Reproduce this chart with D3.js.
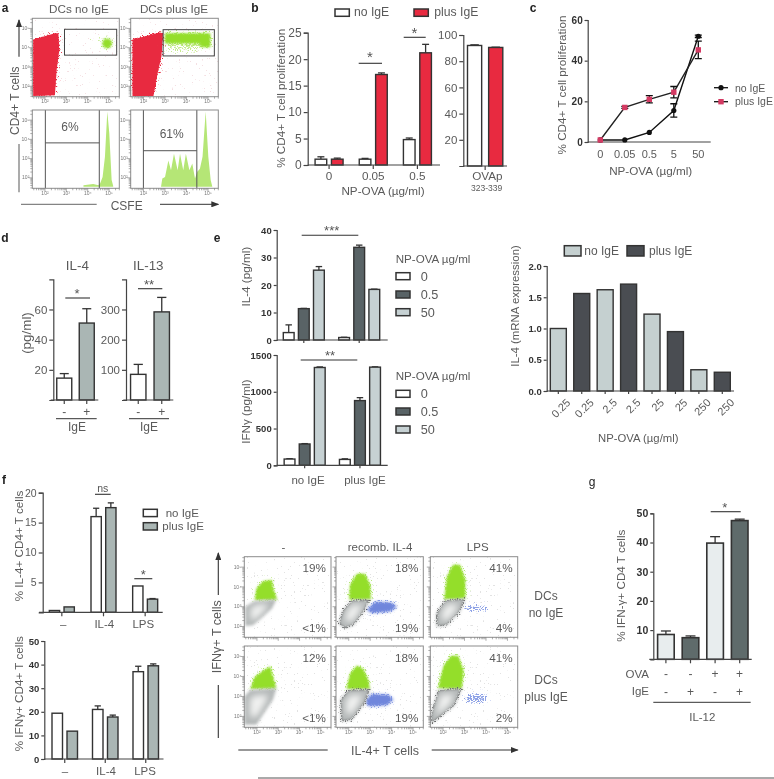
<!DOCTYPE html>
<html><head><meta charset="utf-8">
<style>html,body{margin:0;padding:0;background:#fff}svg{display:block;filter:blur(0.35px)}text{font-family:"Liberation Sans",Arial,sans-serif}</style>
<script src="https://cdn.jsdelivr.net/npm/d3@7/dist/d3.min.js"></script></head><body>
<script>
// ---------- values ----------
const seriesIgE = ['no IgE','plus IgE'];
const bDoses = ['0','0.05','0.5'];
const bNoIgE = [1.1,1.1,4.8], bNoIgEErr = [0.45,0.15,0.3];
const bPlusIgE = [1.1,17.1,21.2], bPlusIgEErr = [0.2,0.3,1.6];
const bOvaCats = ['no IgE','plus IgE'], bOvaVals = [92,90.5], bOvaErr = [0.5,0.2];
const cDoses = ['0','0.05','0.5','5','50'];
const cNoIgE = [1,1,4.7,15.5,52], cNoIgEErr = [0,0.3,0.3,3.3,0.6];
const cPlusIgE = [1,17,21,24.5,45.3], cPlusIgEErr = [0,0.5,1.8,2.8,4.3];
const dSigns = ['-','+'];
const dIL4 = [14.5,51], dIL4Err = [3,9.5];
const dIL13 = [85,292], dIL13Err = [33,48];
const eGroups = ['no IgE','plus IgE'], eDoses = ['0','0.5','50'];
const eIL4 = [[2.7,11.4,25.4],[0.9,33.7,18.4]], eIL4Err = [[2.8,0.1,1.3],[0.1,0.8,0.1]];
const eIFN = [[85,290,1330],[80,880,1335]], eIFNErr = [[5,5,8],[8,40,4]];
const eMrnaDoses = ['0.25','0.25','2.5','2.5','25','25','250','250'];
const eMrna = [1.0,1.56,1.62,1.71,1.23,0.95,0.34,0.30];
const fCats = ['–','IL-4','LPS'];
const fIL4 = [[0.3,0.9],[16,17.5],[4.4,2.2]], fIL4Err = [[0,0],[1.4,0.8],[0,0.1]];
const fIFN = [[19.4,11.8],[21,17.8],[37,39.5]], fIFNErr = [[0,0],[1.5,0.8],[2.3,0.8]];
const gOva = ['-','-','+','+'], gIgE = ['-','+','-','+'];
const gVals = [8.5,7.4,39.8,47.5], gErr = [1.2,0.6,2.2,0.5];
// flow cytometry: population outlines in % of the plot (x from left, y from bottom)
const flowCols = ['-','recomb. IL-4','LPS'];
const flowTop = [['19%','18%','41%'],['12%','18%','41%']];
const flowBottom = [['<1%','19%','4%'],['<1%','19%','2%']];
const flowGreen = [
 [[[12,46],[14,61],[22,70],[32,71],[33,61],[38,47]], [[15,47],[16,65],[24,79],[33,79],[39,65],[40,47]], [[16,47],[19,75],[26,90],[34,90],[40,71],[40,48]]],
 [[[7,47],[12,62],[22,70],[30,75],[33,62],[37,48]], [[12,47],[16,66],[24,76],[31,72],[37,58],[39,47]], [[9,48],[15,75],[24,88],[32,88],[38,70],[36,47]]]];
const flowGray = [
 [[[1,38],[12,45],[37,47],[32,36],[20,24],[10,15],[1,14]], [[8,34],[18,46],[39,47],[32,32],[20,15],[10,11],[3,17]], [[7,30],[17,46],[40,48],[34,32],[19,15],[7,13]]],
 [[[0,38],[7,46],[37,48],[33,34],[20,13],[14,3],[0,3]], [[5,34],[14,46],[39,47],[33,30],[18,9],[6,7]], [[1.5,19],[9,46],[36,48],[28,27],[9,11],[0,3]]]];
const flowBlue = [
 [null, [[35,34],[45,44],[64,43],[70,38],[62,32],[41,30]], [[36,36],[47,41],[66,39],[66,34],[44,32]]],
 [null, [[33,32],[41,41],[60,40],[66,34],[58,27],[37,26]], [[36,36],[47,42],[66,40],[66,32],[44,30]]]];
const aRed = [[[1,73],[26,81],[30,81],[31,59],[28,34],[26,2],[1,1]], [[2,73],[33,82],[37,81],[35,51],[30,26],[26,1],[2,1]]];
const aGate = [[37,53,97,86],[37,52,95.5,85.5]];
const aGreen = [[[[80,68],[83,74],[89,74],[92,68],[89,62],[83,62]],[[60,74],[82,75],[82,70],[60,71]]],
 [[[39,81],[91,81],[91,63],[80,63],[79,68],[39,68]],[[39,68],[79,68],[79,58],[39,60]]]];
const aHistSingle = [[58.8,2],[70,3.5],[76,2],[77.8,4],[80.8,13],[83.5,40],[86.2,100],[88.5,71],[91.2,9],[93,1]];
const aHistMulti = [[34.6,0],[36.1,11],[39.2,13],[43,35],[46,22],[49.4,44],[53.6,22],[56.3,44],[60,22],[63,44],[67,22],[70.3,31],[73.4,11],[76,20],[79,24],[82,40],[85.6,100],[88.6,40],[91.3,9],[93.2,0]];
const aHistLabels = ['6%','61%'];
const aHistGates = [[15,77,58],[14.5,75.5,48]];

// ---------- palette ----------
const ink='#333', txt='#5a5a5a', red='#e82a40', pink='#d43a63', greyBar='#aab6b4', eDark='#596366', eLight='#c6d1d3', mLight='#c5d0d0', mDark='#4a4d52', gLight='#e8edee', gDark='#5f6b6b', green='#94de2c', white='#fff';

const W=774,H=779;
const svg=d3.select('body').append('svg').attr('width',W).attr('height',H).attr('viewBox',[0,0,W,H]);
const defs=svg.append('defs');
function speck(id,color,std,seed,freq){
  const f=defs.append('filter').attr('id',id).attr('x','-40%').attr('y','-40%').attr('width','180%').attr('height','180%').attr('color-interpolation-filters','sRGB');
  f.append('feGaussianBlur').attr('in','SourceAlpha').attr('stdDeviation',std).attr('result','b');
  f.append('feTurbulence').attr('type','fractalNoise').attr('baseFrequency',freq||0.85).attr('numOctaves',1).attr('seed',seed).attr('result','t');
  f.append('feColorMatrix').attr('in','t').attr('type','matrix').attr('values','0 0 0 0 0  0 0 0 0 0  0 0 0 0 0  2.2 0 0 0 -0.6').attr('result','n');
  f.append('feComposite').attr('in','b').attr('in2','n').attr('operator','arithmetic').attr('k1',0).attr('k2',1).attr('k3',1).attr('k4',-1).attr('result','a');
  const c=f.append('feComponentTransfer').attr('in','a').attr('result','h');
  c.append('feFuncA').attr('type','linear').attr('slope',6).attr('intercept',0);
  f.append('feFlood').attr('flood-color',color).attr('result','col');
  f.append('feComposite').attr('in','col').attr('in2','h').attr('operator','in');
}
speck('spGreen','#b4e878',3.2,3);speck('spRed',red,2.4,5);speck('spDark','#4a4a4a',1.8,8);speck('spBlue','#8ea2e6',2.6,11);
speck('spPink','#e6b3bb',0.1,13,0.7);speck('spGrey','#a0a0a0',0.1,17,0.7);speck('spLGreen','#c6eb8e',3,21);
defs.append('filter').attr('id','soft').attr('x','-30%').attr('y','-30%').attr('width','160%').attr('height','160%').append('feGaussianBlur').attr('stdDeviation',1.6);
defs.append('filter').attr('id','soft1').attr('x','-30%').attr('y','-30%').attr('width','160%').attr('height','160%').append('feGaussianBlur').attr('stdDeviation',.8);
defs.append('filter').attr('id','soft3').attr('x','-30%').attr('y','-30%').attr('width','160%').attr('height','160%').append('feGaussianBlur').attr('stdDeviation',3);
defs.append('marker').attr('id','arr').attr('viewBox','0 0 8 6').attr('refX',7).attr('refY',3).attr('markerWidth',8).attr('markerHeight',6).attr('orient','auto').attr('markerUnits','userSpaceOnUse').append('path').attr('d','M0,0L8,3L0,6Z').attr('fill','#333');

// ---------- helpers ----------
function T(x,y,s,o={}){
  const t=svg.append('text').attr('x',x).attr('y',y).attr('dy','.35em').attr('text-anchor',o.a||'middle').attr('font-size',o.s||11.7).attr('fill',o.c||txt).attr('font-weight',o.b?'bold':null).text(s);
  if(o.r!=null)t.attr('transform',`rotate(${o.r} ${x} ${y})`);
  return t;
}
function L(x1,y1,x2,y2,o={}){return svg.append('line').attr('x1',x1).attr('y1',y1).attr('x2',x2).attr('y2',y2).attr('stroke',o.c||ink).attr('stroke-width',o.w||1).attr('marker-end',o.arrow?'url(#arr)':null);}
function Sig(x1,x2,y,s,cx,sy,o={}){L(x1,y,x2,y,{w:1.1});T(cx,sy,s,{s:o.s||13,c:'#555'});}
function swatch(x,y,w,h,f){svg.append('rect').attr('x',x).attr('y',y).attr('width',w).attr('height',h).attr('fill',f).attr('stroke',ink).attr('stroke-width',1.5);}
function yAxis(x,y,ticks,o={}){
  const g=svg.append('g').attr('transform',`translate(${x},0)`).call(d3.axisLeft(y).tickValues(ticks).tickSize(o.ts||4).tickPadding(o.tp||2).tickFormat(o.fmt||d3.format('d')));
  g.selectAll('.domain,line').attr('stroke',o.c||'#444').attr('stroke-width',1.2);
  g.selectAll('text').attr('font-family','"Liberation Sans",Arial,sans-serif').attr('font-size',o.s||11.5).attr('fill',o.tc||txt).attr('font-weight',o.b?'bold':null);
  return g;
}
// grouped bars from band scales; returns the outer scale
function bars(o){
  const y=o.y, nS=o.values[0].length;
  const x=d3.scaleBand().domain(d3.range(o.values.length)).range(o.xr);
  const inner=d3.scaleBand().domain(d3.range(nS)).range([0,o.iw]).paddingInner(o.pad||0);
  const offset=(x.bandwidth()-o.iw)/2;
  const g=svg.append('g');
  o.values.forEach((vals,i)=>vals.forEach((v,j)=>{
    const bx=x(i)+offset+inner(j), bw=inner.bandwidth(), e=o.errors?o.errors[i][j]:0;
    if(e>0){
      g.append('line').attr('x1',bx+bw/2).attr('x2',bx+bw/2).attr('y1',y(v)).attr('y2',y(v+e)).attr('stroke',ink).attr('stroke-width',1.3);
      g.append('line').attr('x1',bx+bw*0.2).attr('x2',bx+bw*0.8).attr('y1',y(v+e)).attr('y2',y(v+e)).attr('stroke',ink).attr('stroke-width',1.3);
    }
    g.append('rect').attr('x',bx).attr('y',y(v)).attr('width',bw).attr('height',y(0)-y(v)).attr('fill',o.fill(i,j)).attr('stroke',ink).attr('stroke-width',o.sw||1.4);
  }));
  const ax=d3.axisBottom(x).tickSize(o.ts==null?4:o.ts).tickPadding(o.tp||3).tickFormat(i=>o.labels?o.labels[i]:'');
  const a=svg.append('g').attr('transform',`translate(0,${y(0)})`).call(ax);
  a.select('.domain').attr('d',`M${o.xa?o.xa[0]:o.xr[0]},0H${o.xa?o.xa[1]:o.xr[1]}`).attr('stroke','#444').attr('stroke-width',1.2);
  a.selectAll('line').attr('stroke','#444').attr('stroke-width',1.2);
  a.selectAll('text').attr('font-family','"Liberation Sans",Arial,sans-serif').attr('font-size',o.ls||11.5).attr('fill',txt);
  return {x,a};
}
const zip=(a,b)=>a.map((v,i)=>[v,b[i]]);
const wrap=a=>a.map(v=>[v]);
const line=d3.line().curve(d3.curveLinearClosed);

// ---------- panel letters ----------
[['a',5,8],['b',255,8],['c',533,8],['d',5,238],['e',217,238],['f',4,480],['g',592,482]].forEach(d=>T(d[1],d[2],d[0],{s:12,c:'#222',b:d[0]!='g'}));

// ---------- a: flow dot plots and histograms ----------
function logAxes(g,w,h,o={}){
  const dom=[Math.pow(10,o.lo||1.43),Math.pow(10,o.hi||5.5)];
  const sx=d3.scaleLog().domain(dom).range([0,w]), sy=d3.scaleLog().domain(dom).range([h,0]);
  const tv=d3.range(1,6).flatMap(e=>d3.range(1,10).map(m=>m*Math.pow(10,e))).filter(t=>t>=dom[0]&&t<=dom[1]);
  const sup=t=>{const e=Math.log10(t);return Number.isInteger(e)&&e>=2?'10'+'⁰¹²³⁴⁵'[e]:'';};
  const st=(s,axis,show)=>{
    s.call(axis.tickValues(tv).tickSize(2).tickPadding(1).tickFormat(show?sup:''));
    s.select('.domain').remove();
    s.selectAll('line').attr('stroke','#777').attr('stroke-width',.6);
    s.selectAll('.tick').filter(t=>Number.isInteger(Math.log10(t))).select('line').attr('y2',axis===ab?3.5:null).attr('x2',axis===al?-3.5:null);
    s.selectAll('text').attr('font-size',5).attr('fill','#777').attr('font-family','"Liberation Sans",Arial,sans-serif');
  };
  const ab=d3.axisBottom(sx), al=d3.axisLeft(sy);
  st(g.append('g').attr('transform',`translate(0,${h})`),ab,o.bottom!==false);
  st(g.append('g'),al,o.left!==false);
}
let clipId=0;
function plotBox(x0,y0,x1,y1){
  const id='clip'+(clipId++);
  defs.append('clipPath').attr('id',id).append('rect').attr('width',x1-x0).attr('height',y1-y0);
  const g=svg.append('g').attr('transform',`translate(${x0},${y0})`);
  const inner=g.append('g').attr('clip-path',`url(#${id})`);
  const sx=d3.scaleLinear().domain([0,100]).range([0,x1-x0]), sy=d3.scaleLinear().domain([0,100]).range([y1-y0,0]);
  const p=pts=>line(pts.map(d=>[sx(d[0]),sy(d[1])]));
  return {g,inner,sx,sy,p,w:x1-x0,h:y1-y0};
}
const fullBox=[[0,0],[100,0],[100,100],[0,100]];
function frame(b){b.g.append('rect').attr('width',b.w).attr('height',b.h).attr('fill','none').attr('stroke','#8c8c8c').attr('stroke-width',1);}
[[32.3,119.3],[130.7,218.3]].forEach((xs,i)=>{
  const b=plotBox(xs[0],18.3,xs[1],96.7);
  b.inner.append('path').attr('d',b.p(fullBox)).attr('fill','#000').attr('fill-opacity',.07).attr('filter','url(#spPink)');
  b.inner.append('path').attr('d',b.p(aRed[i])).attr('fill','#000').attr('filter','url(#spRed)');
  b.inner.append('path').attr('d',b.p(aRed[i])).attr('fill',red);
  const g=aGate[i];
  b.inner.append('path').attr('d',b.p(aGreen[i][1])).attr('fill','#000').attr('fill-opacity',i?.8:.5).attr('filter','url(#spLGreen)');
  b.inner.append('path').attr('d',b.p(aGreen[i][0])).attr('fill','#000').attr('filter','url(#spGreen)');
  b.inner.append('path').attr('d',b.p(aGreen[i][0])).attr('fill',green).attr('filter','url(#soft1)');
  b.inner.append('rect').attr('x',b.sx(g[0])).attr('y',b.sy(g[3])).attr('width',b.sx(g[2])-b.sx(g[0])).attr('height',b.sy(g[1])-b.sy(g[3])).attr('fill','none').attr('stroke','#444').attr('stroke-width',1);
  frame(b);logAxes(b.g,b.w,b.h);
});
[[32.3,119.3],[130.7,218.3]].forEach((xs,i)=>{
  const b=plotBox(xs[0],110,xs[1],188.3);
  const data=i?aHistMulti:aHistSingle;
  const base=b.sy(2);
  const area=d3.area().x(d=>b.sx(d[0])).y0(base).y1(d=>b.sy(d[1]*0.96+2));
  b.inner.append('path').attr('d',area(data)).attr('fill','#b5e676');
  const g=aHistGates[i];
  b.inner.append('path').attr('d',`M${b.sx(g[0])},0V${b.h}M${b.sx(g[1])},0V${b.h}M${b.sx(g[0])},${b.sy(g[2])}H${b.sx(g[1])}`).attr('fill','none').attr('stroke','#555').attr('stroke-width',1);
  frame(b);logAxes(b.g,b.w,b.h);
  T(xs[0]+(i?41:37.7),i?133.3:126.7,aHistLabels[i],{s:12});
});
T(79,9,'DCs no IgE',{s:11.7});T(174,9,'DCs plus IgE',{s:11.7});
T(15,100.7,'CD4+ T cells',{r:-90,s:12});
L(19,56.7,19,20,{arrow:1,w:1.1});L(19,144,19,192.3,{w:1.1,c:'#666'});
T(126.7,205.7,'CSFE',{s:12});
L(21,204.3,96.7,204.3,{c:'#666'});L(160,204.3,218.3,204.3,{arrow:1});

// ---------- b ----------
{
  const y=d3.scaleLinear().domain([0,25]).range([165,32.7]);
  yAxis(307.7,y,[0,5,10,15,20,25],{s:12});
  const fills=[white,red];
  bars({y,values:zip(bNoIgE,bPlusIgE),errors:zip(bNoIgEErr,bPlusIgEErr),xr:[307,439.5],iw:28,pad:.29,fill:(i,j)=>fills[j],labels:bDoses,ls:11.7,tp:3,xa:[307.7,440]});
  const y2=d3.scaleLinear().domain([0,100]).range([166,35]);
  yAxis(463.3,y2,[20,40,60,80,100],{s:11.5});
  bars({y:y2,values:[bOvaVals],errors:[bOvaErr],xr:[463.3,507],iw:35.3,pad:.33,fill:(i,j)=>fills[j],xa:[463.3,507]});
  T(487.3,175.7,'OVAp',{s:11.7});T(486.7,188.3,'323-339',{s:8.5});
  T(281,98.3,'% CD4+ T cell proliferation',{r:-90});
  T(383,190.7,'NP-OVA (µg/ml)',{s:11.7});
  Sig(358.7,382,63.3,'*',370,57,{s:15});Sig(403.7,425.7,37.3,'*',414.5,33,{s:15});
  swatch(335,9,14.3,7.3,white);T(354,11.7,seriesIgE[0],{a:'start',s:12.2});
  swatch(414,9,14.3,7.3,red);T(434.3,11.7,seriesIgE[1],{a:'start',s:12.2});
}
// ---------- c ----------
{
  const y=d3.scaleLinear().domain([0,60]).range([142,20]);
  const x=d3.scalePoint().domain(cDoses).range([600.3,698.3]);
  yAxis(587.7,y,[0,20,40,60],{s:10,b:1,tc:'#333',ts:3});
  const ax=svg.append('g').attr('transform',`translate(0,142)`);
  ax.append('line').attr('x1',587.7).attr('x2',710.7).attr('stroke','#444').attr('stroke-width',1.2);
  cDoses.forEach(d=>T(x(d),154,d,{s:11}));
  const ln=d3.line().x((d,i)=>x(cDoses[i])).y(d=>y(d));
  [[cNoIgE,cNoIgEErr,'#111'],[cPlusIgE,cPlusIgEErr,'#222']].forEach(([v,e,c])=>{
    svg.append('path').attr('d',ln(v)).attr('fill','none').attr('stroke',c).attr('stroke-width',1.4);
    v.forEach((d,i)=>{if(e[i]>0.4){const X=x(cDoses[i]);
      svg.append('path').attr('d',`M${X-3.5},${y(d+e[i])}H${X+3.5}M${X},${y(d+e[i])}V${y(d-e[i])}M${X-3.5},${y(d-e[i])}H${X+3.5}`).attr('fill','none').attr('stroke','#111').attr('stroke-width',1.3);}});
  });
  cNoIgE.forEach((d,i)=>svg.append('circle').attr('cx',x(cDoses[i])).attr('cy',y(d)).attr('r',2.6).attr('fill','#111'));
  cPlusIgE.forEach((d,i)=>svg.append('rect').attr('x',x(cDoses[i])-2.7).attr('y',y(d)-2.7).attr('width',5.4).attr('height',5.4).attr('fill',pink));
  L(714,87.7,728,87.7,{c:'#111',w:1.3});svg.append('circle').attr('cx',721).attr('cy',87.7).attr('r',2.6).attr('fill','#111');
  L(714,101.7,728,101.7,{c:'#111',w:1.3});svg.append('rect').attr('x',718.3).attr('y',99).attr('width',5.4).attr('height',5.4).attr('fill',pink);
  T(735,88,seriesIgE[0],{a:'start',s:10.5});T(735,101.7,seriesIgE[1],{a:'start',s:10.5});
  T(561.7,85,'% CD4+ T cell proliferation',{r:-90});
  T(650.7,170.7,'NP-OVA (µg/ml)',{s:11.7});
}
// ---------- d ----------
{
  const fills=[white,greyBar];
  const y=d3.scaleLinear().domain([0,80]).range([400,279.3]);
  yAxis(53.3,y,[20,40,60],{s:11.5});
  bars({y,values:wrap(dIL4),errors:wrap(dIL4Err),xr:[53,98],iw:15,fill:(i)=>fills[i],labels:dSigns,ls:12,ts:4,tp:3,xa:[50.7,98.3]});
  const y2=d3.scaleLinear().domain([0,400]).range([400,279.3]);
  yAxis(126,y2,[100,200,300],{s:11.5});
  bars({y:y2,values:wrap(dIL13),errors:wrap(dIL13Err),xr:[126.5,173.5],iw:15.4,fill:(i)=>fills[i],labels:dSigns,ls:12,ts:4,tp:3,xa:[123.3,173.3]});
  T(77.3,265.7,'IL-4',{s:13.4});T(148.3,265.7,'IL-13',{s:13.4});
  T(26.7,333,'(pg/ml)',{r:-90,s:13.4});
  L(56,418.7,96.7,418.7);L(129,418.7,169,418.7);
  T(77,427,'IgE',{s:12});T(149,427,'IgE',{s:12});
  Sig(65.3,90,298,'*',77,293);Sig(138,162.3,288.7,'**',149,284);
}
// ---------- e ----------
{
  const fills=[white,eDark,eLight];
  const y=d3.scaleLinear().domain([0,40]).range([340,230]);
  yAxis(276.7,y,[0,10,20,30,40],{s:9.5,b:1,tc:'#333',ts:3});
  bars({y,values:eIL4,errors:eIL4Err,xr:[276.1,386.9],iw:41,pad:.285,fill:(i,j)=>fills[j],xa:[276.7,387.7],ts:3});
  const y2=d3.scaleLinear().domain([0,1500]).range([465.3,355]);
  yAxis(276.7,y2,[0,500,1000,1500],{s:9.5,b:1,tc:'#333',ts:3});
  bars({y:y2,values:eIFN,errors:eIFNErr,xr:[277,387.6],iw:41,pad:.285,fill:(i,j)=>fills[j],xa:[276.7,387.7],ts:3});
  T(308,480,eGroups[0],{s:11.5});T(365,480,eGroups[1],{s:11.5});
  T(245.7,276.7,'IL-4 (pg/ml)',{r:-90});T(245.7,411.7,'IFNγ (pg/ml)',{r:-90});
  Sig(301.7,358.3,235.3,'***',331.7,230);Sig(300.7,357.3,360,'**',330,355);
  [[258.7,272.7,291,308.7],[376,390.3,408,426]].forEach(row=>{
    T(395.7,row[0],'NP-OVA µg/ml',{a:'start',s:11.6});
    eDoses.forEach((d,k)=>{swatch(396,row[k+1],14,7,fills[k]);T(420.7,row[k+1]+3.5,d,{a:'start',s:12.7});});
  });
  // mRNA
  const ym=d3.scaleLinear().domain([0,2]).range([391,266]);
  yAxis(546.7,ym,[0,0.5,1,1.5,2],{s:9.5,b:1,tc:'#333',ts:3,fmt:d3.format('.1f')});
  const rr=bars({y:ym,values:wrap(eMrna),xr:[546.6,734],iw:16,fill:(i)=>i%2?mDark:mLight,labels:eMrnaDoses,ls:11,xa:[546.7,734],ts:3});
  rr.a.selectAll('text').attr('text-anchor','end').attr('transform','translate(5,3) rotate(-45)').attr('dy','.55em').attr('dx','-.1em');
  T(515,306,'IL-4 (mRNA expression)',{r:-90,s:11.4});
  T(638.3,437.7,'NP-OVA (µg/ml)',{s:11.3});
  swatch(564.3,245.7,16.7,10.3,mLight);T(584.3,250.3,seriesIgE[0],{a:'start',s:12});
  swatch(627,245.7,17,10.3,mDark);T(649,250.3,seriesIgE[1],{a:'start',s:12});
}
// ---------- f bars ----------
{
  const fills=[white,greyBar];
  const y=d3.scaleLinear().domain([0,20]).range([612.3,492.7]);
  yAxis(42.7,y,[5,10,15,20],{s:10.5,ts:4});
  bars({y,values:fIL4,errors:fIL4Err,xr:[41,166],iw:25,pad:.3,fill:(i,j)=>fills[j],xa:[39,162.7]});
  fCats.forEach((c,i)=>T([63.3,104.3,143.3][i],624.3,c,{s:11.5}));
  T(19,546,'% IL-4+ CD4+ T cells',{r:-90});
  Sig(95,110.7,494.3,'ns',102.7,488.5,{s:10.5});Sig(134.3,152.3,578.7,'*',143.3,574);
  swatch(143.3,509.3,14,7.3,white);T(165.7,512.7,seriesIgE[0],{a:'start',s:11.5});
  swatch(143.3,522.7,14,7.3,greyBar);T(162.3,526,seriesIgE[1],{a:'start',s:11.5});
  const y2=d3.scaleLinear().domain([0,50]).range([759,641]);
  yAxis(44.3,y2,[0,10,20,30,40,50],{s:9.5,b:1,tc:'#333',ts:3});
  bars({y:y2,values:fIFN,errors:fIFNErr,xr:[44.5,166],iw:25.5,pad:.3,fill:(i,j)=>fills[j],xa:[44.3,163.5]});
  fCats.forEach((c,i)=>T([65,106,145][i],771,c,{s:11.5}));
  T(19,693.7,'% IFNγ+ CD4+ T cells',{r:-90});
}
// ---------- f flow grid ----------
{
  const xs=[[244.3,331],[336,423.3],[430.3,517.7]], ys=[[556.7,637.3],[646,727.3]];
  ys.forEach((yy,r)=>xs.forEach((xx,c)=>{
    const b=plotBox(xx[0],yy[0],xx[1],yy[1]);
    b.inner.append('path').attr('d',b.p(fullBox)).attr('fill','#000').attr('fill-opacity',.05).attr('filter','url(#spGrey)');
    const gr=flowGray[r][c], gn=flowGreen[r][c], bl=flowBlue[r][c];
    if(bl){
      b.inner.append('path').attr('d',b.p(bl)).attr('fill','#000').attr('fill-opacity',c==2?.75:1).attr('filter','url(#spBlue)');
      if(c==1)b.inner.append('path').attr('d',b.p(bl)).attr('fill','#6f86dc').attr('filter','url(#soft)');
    }
    b.inner.append('path').attr('d',b.p(gn)).attr('fill','#000').attr('filter','url(#spGreen)');
    b.inner.append('path').attr('d',b.p(gn)).attr('fill',green).attr('filter','url(#soft1)');
    if(c>0)b.inner.append('path').attr('d',b.p(gr)).attr('fill','#000').attr('filter','url(#spDark)');
    b.inner.append('path').attr('d',b.p(gr)).attr('fill','#b4b8b8').attr('filter','url(#soft)');
    const cen=d3.polygonCentroid(gr), core=gr.map(d=>[cen[0]+(d[0]-cen[0])*.55,cen[1]+(d[1]-cen[1])*.6]);
    b.inner.append('path').attr('d',b.p(core)).attr('fill','#f0f1f0').attr('filter','url(#soft3)');
    frame(b);logAxes(b.g,b.w,b.h,{left:c==0,bottom:r==1});
    T(xx[1]-5,yy[0]+11.6,flowTop[r][c],{a:'end',s:11.7});
    T(xx[1]-5,yy[1]-9.6,flowBottom[r][c],{a:'end',s:11.7});
  }));
  flowCols.forEach((d,i)=>T([283.3,380,477.7][i],547.3,d,{s:11.5}));
  T(546,596,'DCs',{s:12});T(546,612.7,'no IgE',{s:12});
  T(546,680,'DCs',{s:12});T(546,696.5,'plus IgE',{s:12});
  T(216.7,636.7,'IFNγ+ T cells',{r:-90,s:12.5});
  L(218.3,595,218.3,553,{arrow:1,w:1.1});L(218.3,685,218.3,738,{w:1.1});
  T(385,751,'IL-4+ T cells',{s:12.5});
  L(238.3,750,327.7,750,{w:1.1});L(431.7,750,517.7,750,{arrow:1,w:1.1});
  L(258,778,774,778,{c:'#555',w:1});
}
// ---------- g ----------
{
  const y=d3.scaleLinear().domain([0,50]).range([659.3,513.3]);
  yAxis(653.3,y,[10,20,30,40,50],{s:10.5,b:1,tc:'#333',ts:3});
  const fills=[gLight,gDark];
  bars({y,values:wrap(gVals),errors:wrap(gErr),xr:[653.6,752],iw:16.6,fill:i=>fills[i%2],sw:1.6,xa:[649.3,751.7],ts:4,tp:3});
  const cx=[666,690.5,715,739.4];
  T(649,674,'OVA',{a:'end',s:11.5});T(649,691.3,'IgE',{a:'end',s:11.5});
  gOva.forEach((s,i)=>T(cx[i],674,s,{s:12}));gIgE.forEach((s,i)=>T(cx[i],691.3,s,{s:12}));
  L(653.3,702.3,750.7,702.3);
  T(702.3,716.7,'IL-12',{s:11.5});
  T(620.7,585.7,'% IFN-γ+ CD4 T cells',{r:-90});
  Sig(710.7,740.7,511.7,'*',724.7,507);
}
</script></body></html>
